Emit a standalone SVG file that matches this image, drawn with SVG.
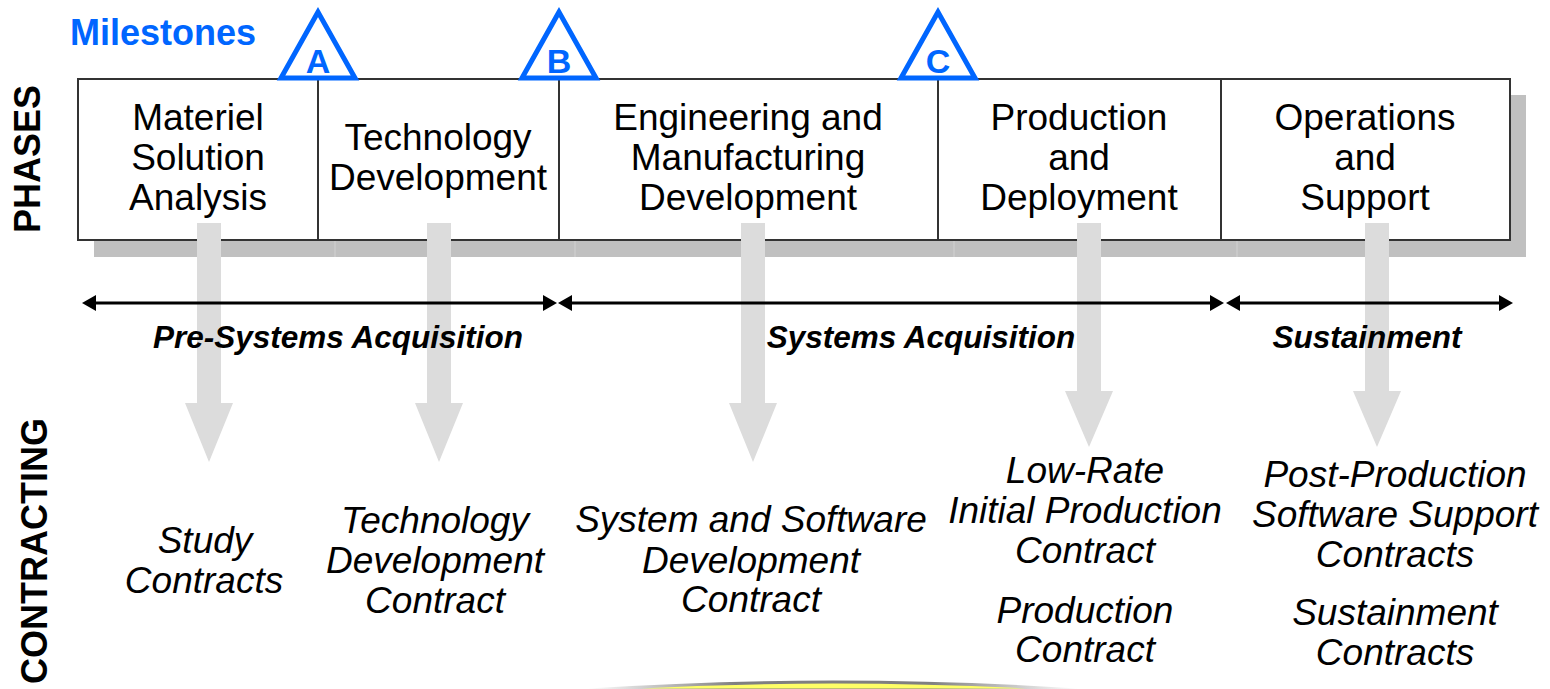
<svg xmlns="http://www.w3.org/2000/svg" width="1550" height="689" viewBox="0 0 1550 689">
<defs>
<style>
.ph{font-family:"Liberation Sans",Arial,sans-serif;font-size:37px;fill:#000;text-anchor:middle}
.ct{font-family:"Liberation Sans",Arial,sans-serif;font-size:37px;font-style:italic;fill:#000;text-anchor:middle}
.era{font-family:"Liberation Sans",Arial,sans-serif;font-size:31.5px;font-style:italic;font-weight:bold;fill:#000;text-anchor:middle}
.side{font-family:"Liberation Sans",Arial,sans-serif;font-size:36px;font-weight:bold;fill:#000;text-anchor:middle}
.ms{font-family:"Liberation Sans",Arial,sans-serif;font-weight:bold;fill:#0066ff}
.cell{fill:#fff;stroke:#333;stroke-width:2}
.tri{fill:#fff;stroke:#0066ff;stroke-width:5;stroke-linejoin:miter}
.gar{fill:#dcdcdc}
.hl{stroke:#000;stroke-width:3}
.ah{fill:#000}
</style>
<linearGradient id="arcg" x1="0" y1="0" x2="1" y2="0">
<stop offset="0" stop-color="#ffffff"/>
<stop offset="0.3" stop-color="#808080"/>
<stop offset="0.7" stop-color="#808080"/>
<stop offset="1" stop-color="#ffffff"/>
</linearGradient>
</defs>
<rect width="1550" height="689" fill="#fff"/>

<g id="side-labels">
<text class="side" transform="translate(40,159) rotate(-90)">PHASES</text>
<text class="side" transform="translate(47,551) rotate(-90)">CONTRACTING</text>
</g>

<g id="phase-shadow">
<rect x="94" y="95" width="1432" height="162" fill="#c0c0c0"/>
<g stroke="#cccccc" stroke-width="1.5">
<line x1="335" y1="241" x2="335" y2="257"/>
<line x1="575" y1="241" x2="575" y2="257"/>
<line x1="954" y1="241" x2="954" y2="257"/>
<line x1="1237" y1="241" x2="1237" y2="257"/>
</g>
</g>

<g id="phases">
<g id="phase-msa">
<rect class="cell" x="78" y="79" width="240" height="161"/>
<text class="ph" x="198" y="130">Materiel</text>
<text class="ph" x="198" y="170">Solution</text>
<text class="ph" x="198" y="210">Analysis</text>
</g>
<g id="phase-td">
<rect class="cell" x="318" y="79" width="241" height="161"/>
<text class="ph" x="438" y="150">Technology</text>
<text class="ph" x="438" y="190">Development</text>
</g>
<g id="phase-emd">
<rect class="cell" x="559" y="79" width="379" height="161"/>
<text class="ph" x="748" y="130">Engineering and</text>
<text class="ph" x="748" y="170">Manufacturing</text>
<text class="ph" x="748" y="210">Development</text>
</g>
<g id="phase-pd">
<rect class="cell" x="938" y="79" width="283" height="161"/>
<text class="ph" x="1079" y="130">Production</text>
<text class="ph" x="1079" y="170">and</text>
<text class="ph" x="1079" y="210">Deployment</text>
</g>
<g id="phase-os">
<rect class="cell" x="1221" y="79" width="289" height="161"/>
<text class="ph" x="1365" y="130">Operations</text>
<text class="ph" x="1365" y="170">and</text>
<text class="ph" x="1365" y="210">Support</text>
</g>
</g>

<g id="milestones">
<text class="ms" x="70" y="45" font-size="36">Milestones</text>
<g id="milestone-a">
<polygon class="tri" points="318,12 281,78 355,78"/>
<text class="ms" x="318" y="73" font-size="34" text-anchor="middle">A</text>
</g>
<g id="milestone-b">
<polygon class="tri" points="559,12 522,78 596,78"/>
<text class="ms" x="559" y="73" font-size="34" text-anchor="middle">B</text>
</g>
<g id="milestone-c">
<polygon class="tri" points="938,12 901,78 975,78"/>
<text class="ms" x="938" y="73" font-size="34" text-anchor="middle">C</text>
</g>
</g>

<g id="connectors">
<polygon class="gar" points="197,223 221,223 221,403 233,403 209,462 185,403 197,403"/>
<polygon class="gar" points="427,223 451,223 451,403 463,403 439,462 415,403 427,403"/>
<polygon class="gar" points="741,223 765,223 765,403 777,403 753,462 729,403 741,403"/>
<polygon class="gar" points="1077,223 1101,223 1101,391 1113,391 1089,447 1065,391 1077,391"/>
<polygon class="gar" points="1365,223 1389,223 1389,391 1401,391 1377,447 1353,391 1365,391"/>

<line class="hl" x1="92" y1="303" x2="547" y2="303"/>
<polygon class="ah" points="82,303 96,295 96,311"/>
<polygon class="ah" points="557,303 543,295 543,311"/>
<line class="hl" x1="568" y1="303" x2="1214" y2="303"/>
<polygon class="ah" points="558,303 572,295 572,311"/>
<polygon class="ah" points="1224,303 1210,295 1210,311"/>
<line class="hl" x1="1236" y1="303" x2="1503" y2="303"/>
<polygon class="ah" points="1226,303 1240,295 1240,311"/>
<polygon class="ah" points="1513,303 1499,295 1499,311"/>
</g>

<g id="eras">
<text class="era" x="338" y="348">Pre-Systems Acquisition</text>
<text class="era" x="921" y="348">Systems Acquisition</text>
<text class="era" x="1367" y="348">Sustainment</text>
</g>

<g id="contracts">
<g id="contract-study">
<text class="ct" x="205" y="553">Study</text>
<text class="ct" x="204" y="593">Contracts</text>
</g>
<g id="contract-td">
<text class="ct" x="435" y="533">Technology</text>
<text class="ct" x="435" y="573">Development</text>
<text class="ct" x="435" y="613">Contract</text>
</g>
<g id="contract-ssd">
<text class="ct" x="751" y="532">System and Software</text>
<text class="ct" x="751" y="573">Development</text>
<text class="ct" x="751" y="612">Contract</text>
</g>
<g id="contract-lrip">
<text class="ct" x="1085" y="483">Low-Rate</text>
<text class="ct" x="1085" y="523">Initial Production</text>
<text class="ct" x="1085" y="563">Contract</text>
</g>
<g id="contract-prod">
<text class="ct" x="1085" y="623">Production</text>
<text class="ct" x="1085" y="662">Contract</text>
</g>
<g id="contract-ppss">
<text class="ct" x="1395" y="487">Post-Production</text>
<text class="ct" x="1395" y="527">Software Support</text>
<text class="ct" x="1395" y="567">Contracts</text>
</g>
<g id="contract-sust">
<text class="ct" x="1395" y="625">Sustainment</text>
<text class="ct" x="1395" y="665">Contracts</text>
</g>
</g>

<g id="bottom-arc">
<path d="M588,690 Q833,674 1078,690 Z" fill="#ffff66" stroke="url(#arcg)" stroke-width="3"/>
</g>
</svg>
